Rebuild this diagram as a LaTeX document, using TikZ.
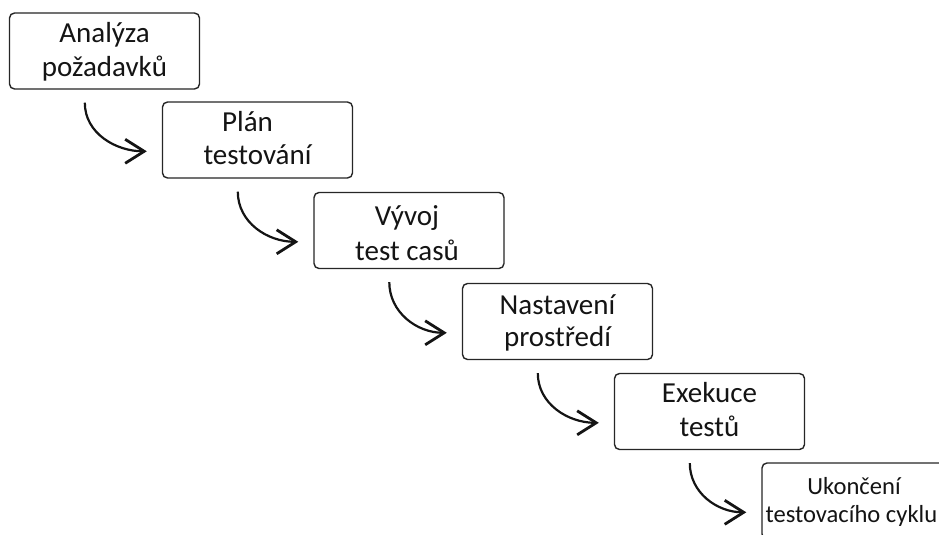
\documentclass[tikz,border=0pt]{standalone}
\usepackage{fontspec}
\setmainfont{Carlito}
\usetikzlibrary{arrows.meta}

\definecolor{ink}{HTML}{141414}
\definecolor{edge}{HTML}{262626}

\tikzset{
  stepbox/.style={draw=edge, line width=1.4pt, rounded corners=5pt, fill=white,
    minimum width=190pt, minimum height=76pt, inner sep=0pt},
  steptext/.style={text=ink, inner sep=0pt, anchor=base, font=\fontsize{29}{34}\selectfont},
  smalltext/.style={text=ink, inner sep=0pt, anchor=base, font=\fontsize{24.6}{28}\selectfont},
  flow/.style={draw=ink, line width=2.2pt, -{Straight Barb[length=19pt,width=24pt,line width=2.8pt]}},
}

\begin{document}
\begin{tikzpicture}[x=1pt, y=-1pt]
  \useasboundingbox (0,0) rectangle (939,535);
  \clip (0,0) rectangle (939,535);

  % process steps, each shifted down and to the right
  \node[stepbox] (b1) at (104.5,51) {};
  \node[stepbox] (b2) at (257.5,140) {};
  \node[stepbox] (b3) at (409,230.5) {};
  \node[stepbox] (b4) at (557.5,321.5) {};
  \node[stepbox] (b5) at (709.5,411.5) {};
  \node[stepbox] (b6) at (857,501) {};

  % labels
  \node[steptext] (t1a) at ([yshift=-30pt]b1.north) {Analýza};
  \node[steptext] (t1b) at ([yshift=-64pt]b1.north) {požadavků};
  \node[steptext] (t2a) at ([xshift=-10pt,yshift=-30pt]b2.north) {Plán};
  \node[steptext] (t2b) at ([yshift=-63pt]b2.north) {testování};
  \node[steptext] (t3a) at ([xshift=-2pt,yshift=-34pt]b3.north) {Vývoj};
  \node[steptext] (t3b) at ([xshift=-2pt,yshift=-69pt]b3.north) {test casů};
  \node[steptext] (t4a) at ([yshift=-32pt]b4.north) {Nastavení};
  \node[steptext] (t4b) at ([yshift=-64pt]b4.north) {prostředí};
  \node[steptext] (t5a) at ([yshift=-30pt]b5.north) {Exekuce};
  \node[steptext] (t5b) at ([yshift=-64pt]b5.north) {testů};
  \node[smalltext] (t6a) at ([xshift=-3pt,yshift=-32pt]b6.north) {Ukončení};
  \node[smalltext, anchor=base west] (t6b) at ([xshift=4pt,yshift=-60pt]b6.north west) {testovacího cyklu};

  % curved connectors between consecutive steps
  \foreach \a/\b in {b1/b2, b2/b3, b3/b4, b4/b5, b5/b6}{
    \draw[flow] ([xshift=76pt,yshift=-13pt]\a.south west)
      to[out=-90,in=180] ([xshift=-15pt,yshift=-50pt]\b.north west);
  }
\end{tikzpicture}
\end{document}
